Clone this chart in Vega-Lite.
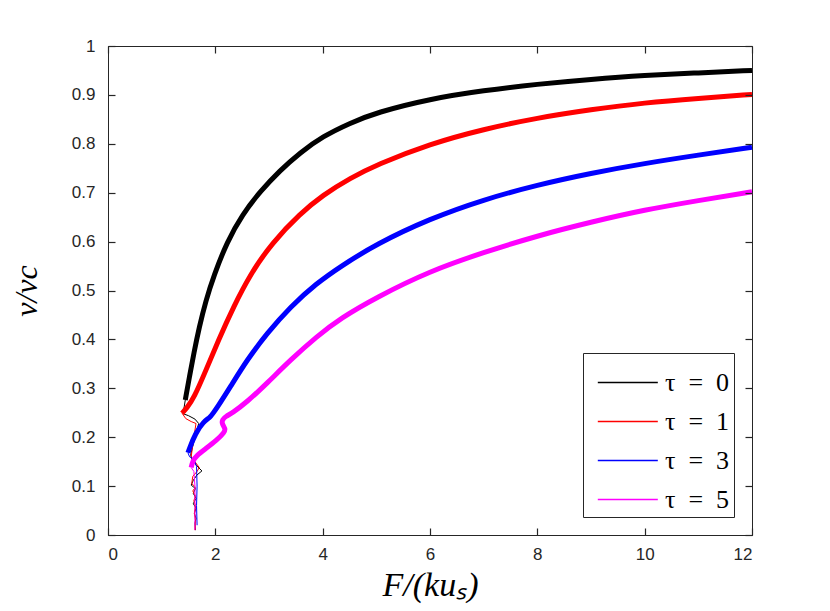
{
  "$schema": "https://vega.github.io/schema/vega-lite/v6.json",
  "autosize": "none",
  "padding": {"left": 108, "top": 46, "right": 78, "bottom": 76},
  "width": 644,
  "height": 489,
  "background": "white",
  "config": {
    "view": {"stroke": "#262626", "strokeWidth": 1},
    "axis": {
      "grid": false,
      "domainColor": "#262626",
      "tickColor": "#262626",
      "tickWidth": 1,
      "tickSize": 7,
      "labelFont": "Liberation Sans",
      "labelFontSize": 17,
      "labelColor": "#262626",
      "titleFont": "Liberation Serif",
      "titleFontStyle": "italic",
      "titleFontWeight": "normal",
      "titleColor": "#000000"
    },
    "legend": {
      "orient": "bottom-right",
      "offset": 18,
      "padding": 4,
      "strokeColor": "#262626",
      "fillColor": "white",
      "symbolType": "M-0.6,0L1.85,0",
      "symbolSize": 2400,
      "symbolStrokeWidth": 1.5,
      "labelFont": "Liberation Serif",
      "labelFontSize": 26,
      "labelColor": "#000000",
      "labelOffset": 27,
      "rowPadding": 0
    }
  },
  "data": {
    "values": [
      {"tau": "τ = 0", "branch": "main", "i": 0, "F": 1.44, "v": 0.276},
      {"tau": "τ = 0", "branch": "main", "i": 1, "F": 1.52, "v": 0.325},
      {"tau": "τ = 0", "branch": "main", "i": 2, "F": 1.6, "v": 0.372},
      {"tau": "τ = 0", "branch": "main", "i": 3, "F": 1.7, "v": 0.425},
      {"tau": "τ = 0", "branch": "main", "i": 4, "F": 1.82, "v": 0.478},
      {"tau": "τ = 0", "branch": "main", "i": 5, "F": 1.97, "v": 0.53},
      {"tau": "τ = 0", "branch": "main", "i": 6, "F": 2.22, "v": 0.6},
      {"tau": "τ = 0", "branch": "main", "i": 7, "F": 2.5, "v": 0.655},
      {"tau": "τ = 0", "branch": "main", "i": 8, "F": 2.84, "v": 0.703},
      {"tau": "τ = 0", "branch": "main", "i": 9, "F": 3.2, "v": 0.745},
      {"tau": "τ = 0", "branch": "main", "i": 10, "F": 3.58, "v": 0.782},
      {"tau": "τ = 0", "branch": "main", "i": 11, "F": 4.0, "v": 0.815},
      {"tau": "τ = 0", "branch": "main", "i": 12, "F": 4.5, "v": 0.842},
      {"tau": "τ = 0", "branch": "main", "i": 13, "F": 5.0, "v": 0.864},
      {"tau": "τ = 0", "branch": "main", "i": 14, "F": 6.0, "v": 0.892},
      {"tau": "τ = 0", "branch": "main", "i": 15, "F": 7.0, "v": 0.909},
      {"tau": "τ = 0", "branch": "main", "i": 16, "F": 8.0, "v": 0.922},
      {"tau": "τ = 0", "branch": "main", "i": 17, "F": 9.0, "v": 0.932},
      {"tau": "τ = 0", "branch": "main", "i": 18, "F": 10.0, "v": 0.94},
      {"tau": "τ = 0", "branch": "main", "i": 19, "F": 11.0, "v": 0.945},
      {"tau": "τ = 0", "branch": "main", "i": 20, "F": 12.0, "v": 0.95},
      {"tau": "τ = 0", "branch": "tail", "i": 0, "F": 1.44, "v": 0.276},
      {"tau": "τ = 0", "branch": "tail", "i": 1, "F": 1.41, "v": 0.255},
      {"tau": "τ = 0", "branch": "tail", "i": 2, "F": 1.4, "v": 0.248},
      {"tau": "τ = 0", "branch": "tail", "i": 3, "F": 1.5, "v": 0.244},
      {"tau": "τ = 0", "branch": "tail", "i": 4, "F": 1.62, "v": 0.237},
      {"tau": "τ = 0", "branch": "tail", "i": 5, "F": 1.69, "v": 0.228},
      {"tau": "τ = 0", "branch": "tail", "i": 6, "F": 1.62, "v": 0.2},
      {"tau": "τ = 0", "branch": "tail", "i": 7, "F": 1.54, "v": 0.164},
      {"tau": "τ = 0", "branch": "tail", "i": 8, "F": 1.57, "v": 0.153},
      {"tau": "τ = 0", "branch": "tail", "i": 9, "F": 1.66, "v": 0.141},
      {"tau": "τ = 0", "branch": "tail", "i": 10, "F": 1.75, "v": 0.131},
      {"tau": "τ = 0", "branch": "tail", "i": 11, "F": 1.66, "v": 0.123},
      {"tau": "τ = 0", "branch": "tail", "i": 12, "F": 1.59, "v": 0.112},
      {"tau": "τ = 0", "branch": "tail", "i": 13, "F": 1.55, "v": 0.102},
      {"tau": "τ = 0", "branch": "tail", "i": 14, "F": 1.63, "v": 0.095},
      {"tau": "τ = 0", "branch": "tail", "i": 15, "F": 1.59, "v": 0.085},
      {"tau": "τ = 0", "branch": "tail", "i": 16, "F": 1.64, "v": 0.075},
      {"tau": "τ = 0", "branch": "tail", "i": 17, "F": 1.59, "v": 0.064},
      {"tau": "τ = 0", "branch": "tail", "i": 18, "F": 1.64, "v": 0.055},
      {"tau": "τ = 0", "branch": "tail", "i": 19, "F": 1.61, "v": 0.044},
      {"tau": "τ = 0", "branch": "tail", "i": 20, "F": 1.64, "v": 0.034},
      {"tau": "τ = 0", "branch": "tail", "i": 21, "F": 1.62, "v": 0.024},
      {"tau": "τ = 0", "branch": "tail", "i": 22, "F": 1.63, "v": 0.01},
      {"tau": "τ = 1", "branch": "main", "i": 0, "F": 1.38, "v": 0.249},
      {"tau": "τ = 1", "branch": "main", "i": 1, "F": 1.47, "v": 0.26},
      {"tau": "τ = 1", "branch": "main", "i": 2, "F": 1.6, "v": 0.28},
      {"tau": "τ = 1", "branch": "main", "i": 3, "F": 1.81, "v": 0.333},
      {"tau": "τ = 1", "branch": "main", "i": 4, "F": 2.06, "v": 0.399},
      {"tau": "τ = 1", "branch": "main", "i": 5, "F": 2.34, "v": 0.467},
      {"tau": "τ = 1", "branch": "main", "i": 6, "F": 2.65, "v": 0.533},
      {"tau": "τ = 1", "branch": "main", "i": 7, "F": 3.06, "v": 0.598},
      {"tau": "τ = 1", "branch": "main", "i": 8, "F": 3.58, "v": 0.657},
      {"tau": "τ = 1", "branch": "main", "i": 9, "F": 4.0, "v": 0.695},
      {"tau": "τ = 1", "branch": "main", "i": 10, "F": 4.52, "v": 0.73},
      {"tau": "τ = 1", "branch": "main", "i": 11, "F": 5.0, "v": 0.757},
      {"tau": "τ = 1", "branch": "main", "i": 12, "F": 6.0, "v": 0.8},
      {"tau": "τ = 1", "branch": "main", "i": 13, "F": 7.0, "v": 0.83},
      {"tau": "τ = 1", "branch": "main", "i": 14, "F": 8.0, "v": 0.853},
      {"tau": "τ = 1", "branch": "main", "i": 15, "F": 9.0, "v": 0.87},
      {"tau": "τ = 1", "branch": "main", "i": 16, "F": 10.0, "v": 0.884},
      {"tau": "τ = 1", "branch": "main", "i": 17, "F": 11.0, "v": 0.893},
      {"tau": "τ = 1", "branch": "main", "i": 18, "F": 12.0, "v": 0.901},
      {"tau": "τ = 1", "branch": "tail", "i": 0, "F": 1.38, "v": 0.249},
      {"tau": "τ = 1", "branch": "tail", "i": 1, "F": 1.45, "v": 0.238},
      {"tau": "τ = 1", "branch": "tail", "i": 2, "F": 1.55, "v": 0.232},
      {"tau": "τ = 1", "branch": "tail", "i": 3, "F": 1.64, "v": 0.228},
      {"tau": "τ = 1", "branch": "tail", "i": 4, "F": 1.6, "v": 0.2},
      {"tau": "τ = 1", "branch": "tail", "i": 5, "F": 1.55, "v": 0.16},
      {"tau": "τ = 1", "branch": "tail", "i": 6, "F": 1.62, "v": 0.15},
      {"tau": "τ = 1", "branch": "tail", "i": 7, "F": 1.7, "v": 0.138},
      {"tau": "τ = 1", "branch": "tail", "i": 8, "F": 1.66, "v": 0.13},
      {"tau": "τ = 1", "branch": "tail", "i": 9, "F": 1.58, "v": 0.12},
      {"tau": "τ = 1", "branch": "tail", "i": 10, "F": 1.56, "v": 0.105},
      {"tau": "τ = 1", "branch": "tail", "i": 11, "F": 1.63, "v": 0.098},
      {"tau": "τ = 1", "branch": "tail", "i": 12, "F": 1.58, "v": 0.09},
      {"tau": "τ = 1", "branch": "tail", "i": 13, "F": 1.63, "v": 0.08},
      {"tau": "τ = 1", "branch": "tail", "i": 14, "F": 1.6, "v": 0.07},
      {"tau": "τ = 1", "branch": "tail", "i": 15, "F": 1.63, "v": 0.06},
      {"tau": "τ = 1", "branch": "tail", "i": 16, "F": 1.61, "v": 0.045},
      {"tau": "τ = 1", "branch": "tail", "i": 17, "F": 1.63, "v": 0.03},
      {"tau": "τ = 1", "branch": "tail", "i": 18, "F": 1.62, "v": 0.01},
      {"tau": "τ = 3", "branch": "main", "i": 0, "F": 1.49, "v": 0.168},
      {"tau": "τ = 3", "branch": "main", "i": 1, "F": 1.51, "v": 0.175},
      {"tau": "τ = 3", "branch": "main", "i": 2, "F": 1.63, "v": 0.208},
      {"tau": "τ = 3", "branch": "main", "i": 3, "F": 1.78, "v": 0.232},
      {"tau": "τ = 3", "branch": "main", "i": 4, "F": 1.9, "v": 0.24},
      {"tau": "τ = 3", "branch": "main", "i": 5, "F": 1.95, "v": 0.248},
      {"tau": "τ = 3", "branch": "main", "i": 6, "F": 2.03, "v": 0.26},
      {"tau": "τ = 3", "branch": "main", "i": 7, "F": 2.28, "v": 0.303},
      {"tau": "τ = 3", "branch": "main", "i": 8, "F": 2.59, "v": 0.358},
      {"tau": "τ = 3", "branch": "main", "i": 9, "F": 2.96, "v": 0.412},
      {"tau": "τ = 3", "branch": "main", "i": 10, "F": 3.4, "v": 0.467},
      {"tau": "τ = 3", "branch": "main", "i": 11, "F": 3.89, "v": 0.515},
      {"tau": "τ = 3", "branch": "main", "i": 12, "F": 4.33, "v": 0.549},
      {"tau": "τ = 3", "branch": "main", "i": 13, "F": 5.0, "v": 0.595},
      {"tau": "τ = 3", "branch": "main", "i": 14, "F": 6.0, "v": 0.647},
      {"tau": "τ = 3", "branch": "main", "i": 15, "F": 7.0, "v": 0.686},
      {"tau": "τ = 3", "branch": "main", "i": 16, "F": 8.0, "v": 0.716},
      {"tau": "τ = 3", "branch": "main", "i": 17, "F": 9.0, "v": 0.74},
      {"tau": "τ = 3", "branch": "main", "i": 18, "F": 10.0, "v": 0.76},
      {"tau": "τ = 3", "branch": "main", "i": 19, "F": 11.0, "v": 0.777},
      {"tau": "τ = 3", "branch": "main", "i": 20, "F": 12.0, "v": 0.793},
      {"tau": "τ = 3", "branch": "tail", "i": 0, "F": 1.49, "v": 0.168},
      {"tau": "τ = 3", "branch": "tail", "i": 1, "F": 1.52, "v": 0.16},
      {"tau": "τ = 3", "branch": "tail", "i": 2, "F": 1.6, "v": 0.155},
      {"tau": "τ = 3", "branch": "tail", "i": 3, "F": 1.65, "v": 0.14},
      {"tau": "τ = 3", "branch": "tail", "i": 4, "F": 1.66, "v": 0.1},
      {"tau": "τ = 3", "branch": "tail", "i": 5, "F": 1.65, "v": 0.06},
      {"tau": "τ = 3", "branch": "tail", "i": 6, "F": 1.66, "v": 0.02},
      {"tau": "τ = 5", "branch": "main", "i": 0, "F": 1.55, "v": 0.138},
      {"tau": "τ = 5", "branch": "main", "i": 1, "F": 1.58, "v": 0.152},
      {"tau": "τ = 5", "branch": "main", "i": 2, "F": 1.65, "v": 0.162},
      {"tau": "τ = 5", "branch": "main", "i": 3, "F": 1.79, "v": 0.174},
      {"tau": "τ = 5", "branch": "main", "i": 4, "F": 2.03, "v": 0.194},
      {"tau": "τ = 5", "branch": "main", "i": 5, "F": 2.17, "v": 0.21},
      {"tau": "τ = 5", "branch": "main", "i": 6, "F": 2.19, "v": 0.217},
      {"tau": "τ = 5", "branch": "main", "i": 7, "F": 2.12, "v": 0.228},
      {"tau": "τ = 5", "branch": "main", "i": 8, "F": 2.13, "v": 0.236},
      {"tau": "τ = 5", "branch": "main", "i": 9, "F": 2.2, "v": 0.243},
      {"tau": "τ = 5", "branch": "main", "i": 10, "F": 2.31, "v": 0.249},
      {"tau": "τ = 5", "branch": "main", "i": 11, "F": 2.59, "v": 0.272},
      {"tau": "τ = 5", "branch": "main", "i": 12, "F": 2.96, "v": 0.31},
      {"tau": "τ = 5", "branch": "main", "i": 13, "F": 3.4, "v": 0.358},
      {"tau": "τ = 5", "branch": "main", "i": 14, "F": 3.89, "v": 0.406},
      {"tau": "τ = 5", "branch": "main", "i": 15, "F": 4.33, "v": 0.443},
      {"tau": "τ = 5", "branch": "main", "i": 16, "F": 5.0, "v": 0.486},
      {"tau": "τ = 5", "branch": "main", "i": 17, "F": 6.0, "v": 0.54},
      {"tau": "τ = 5", "branch": "main", "i": 18, "F": 7.0, "v": 0.578},
      {"tau": "τ = 5", "branch": "main", "i": 19, "F": 8.0, "v": 0.612},
      {"tau": "τ = 5", "branch": "main", "i": 20, "F": 9.0, "v": 0.64},
      {"tau": "τ = 5", "branch": "main", "i": 21, "F": 10.0, "v": 0.665},
      {"tau": "τ = 5", "branch": "main", "i": 22, "F": 11.0, "v": 0.684},
      {"tau": "τ = 5", "branch": "main", "i": 23, "F": 12.0, "v": 0.702},
      {"tau": "τ = 5", "branch": "tail", "i": 0, "F": 1.55, "v": 0.138},
      {"tau": "τ = 5", "branch": "tail", "i": 1, "F": 1.6, "v": 0.13},
      {"tau": "τ = 5", "branch": "tail", "i": 2, "F": 1.62, "v": 0.1},
      {"tau": "τ = 5", "branch": "tail", "i": 3, "F": 1.62, "v": 0.05},
      {"tau": "τ = 5", "branch": "tail", "i": 4, "F": 1.62, "v": 0.01}
    ]
  },
  "layer": [
    {
      "transform": [{"filter": "datum.branch == 'tail'"}],
      "mark": {"type": "line", "strokeWidth": 1},
      "encoding": {
        "x": {
          "field": "F",
          "type": "quantitative",
          "scale": {"domain": [0, 12], "nice": false},
          "axis": {"values": [0, 2, 4, 6, 8, 10, 12], "ticks": false, "title": "F/(kuₛ)", "titleFontSize": 34, "titlePadding": 6, "labelPadding": 11}
        },
        "y": {
          "field": "v",
          "type": "quantitative",
          "scale": {"domain": [0, 1], "nice": false},
          "axis": {"values": [0, 0.1, 0.2, 0.3, 0.4, 0.5, 0.6, 0.7, 0.8, 0.9, 1], "ticks": false, "title": "v/vc", "titleFontSize": 32, "titlePadding": 28, "labelPadding": 13, "labelExpr": "datum.value == 0 ? '0' : datum.value == 1 ? '1' : datum.label"}
        },
        "color": {
          "field": "tau",
          "type": "nominal",
          "scale": {"domain": ["τ = 0", "τ = 1", "τ = 3", "τ = 5"], "range": ["#000000", "#ff0000", "#0000ff", "#ff00ff"]},
          "legend": {"title": null, "labelExpr": "replace(datum.label, ' = ', '\u2002=\u2002')"}
        },
        "order": {"field": "i", "type": "quantitative"}
      }
    },
    {
      "transform": [{"filter": "datum.branch == 'main'"}],
      "mark": {"type": "line", "interpolate": "basis", "strokeWidth": 5, "strokeCap": "butt"},
      "encoding": {
        "x": {"field": "F", "type": "quantitative", "axis": null},
        "y": {"field": "v", "type": "quantitative", "axis": null},
        "color": {"field": "tau", "type": "nominal"},
        "order": {"field": "i", "type": "quantitative"}
      }
    },
    {
      "mark": {"type": "point", "opacity": 0},
      "encoding": {
        "x": {
          "field": "F",
          "type": "quantitative",
          "axis": {"orient": "top", "offset": -7, "ticks": true, "tickColor": "#262626", "tickWidth": 1.2, "zindex": 2, "values": [0, 2, 4, 6, 8, 10, 12], "labels": false, "title": null, "domain": false}
        },
        "y": {
          "field": "v",
          "type": "quantitative",
          "axis": {"orient": "right", "offset": -7, "ticks": true, "tickColor": "#262626", "tickWidth": 1.2, "zindex": 2, "values": [0, 0.1, 0.2, 0.3, 0.4, 0.5, 0.6, 0.7, 0.8, 0.9, 1], "labels": false, "title": null, "domain": false}
        }
      }
    },
    {
      "mark": {"type": "point", "opacity": 0},
      "encoding": {
        "x": {
          "field": "F",
          "type": "quantitative",
          "axis": {"orient": "bottom", "offset": -7, "ticks": true, "tickColor": "#262626", "tickWidth": 1.2, "zindex": 2, "values": [0, 2, 4, 6, 8, 10, 12], "labels": false, "title": null, "domain": false}
        },
        "y": {
          "field": "v",
          "type": "quantitative",
          "axis": {"orient": "left", "offset": -7, "ticks": true, "tickColor": "#262626", "tickWidth": 1.2, "zindex": 2, "values": [0, 0.1, 0.2, 0.3, 0.4, 0.5, 0.6, 0.7, 0.8, 0.9, 1], "labels": false, "title": null, "domain": false}
        }
      }
    }
  ],
  "resolve": {"axis": {"x": "independent", "y": "independent"}}
}
